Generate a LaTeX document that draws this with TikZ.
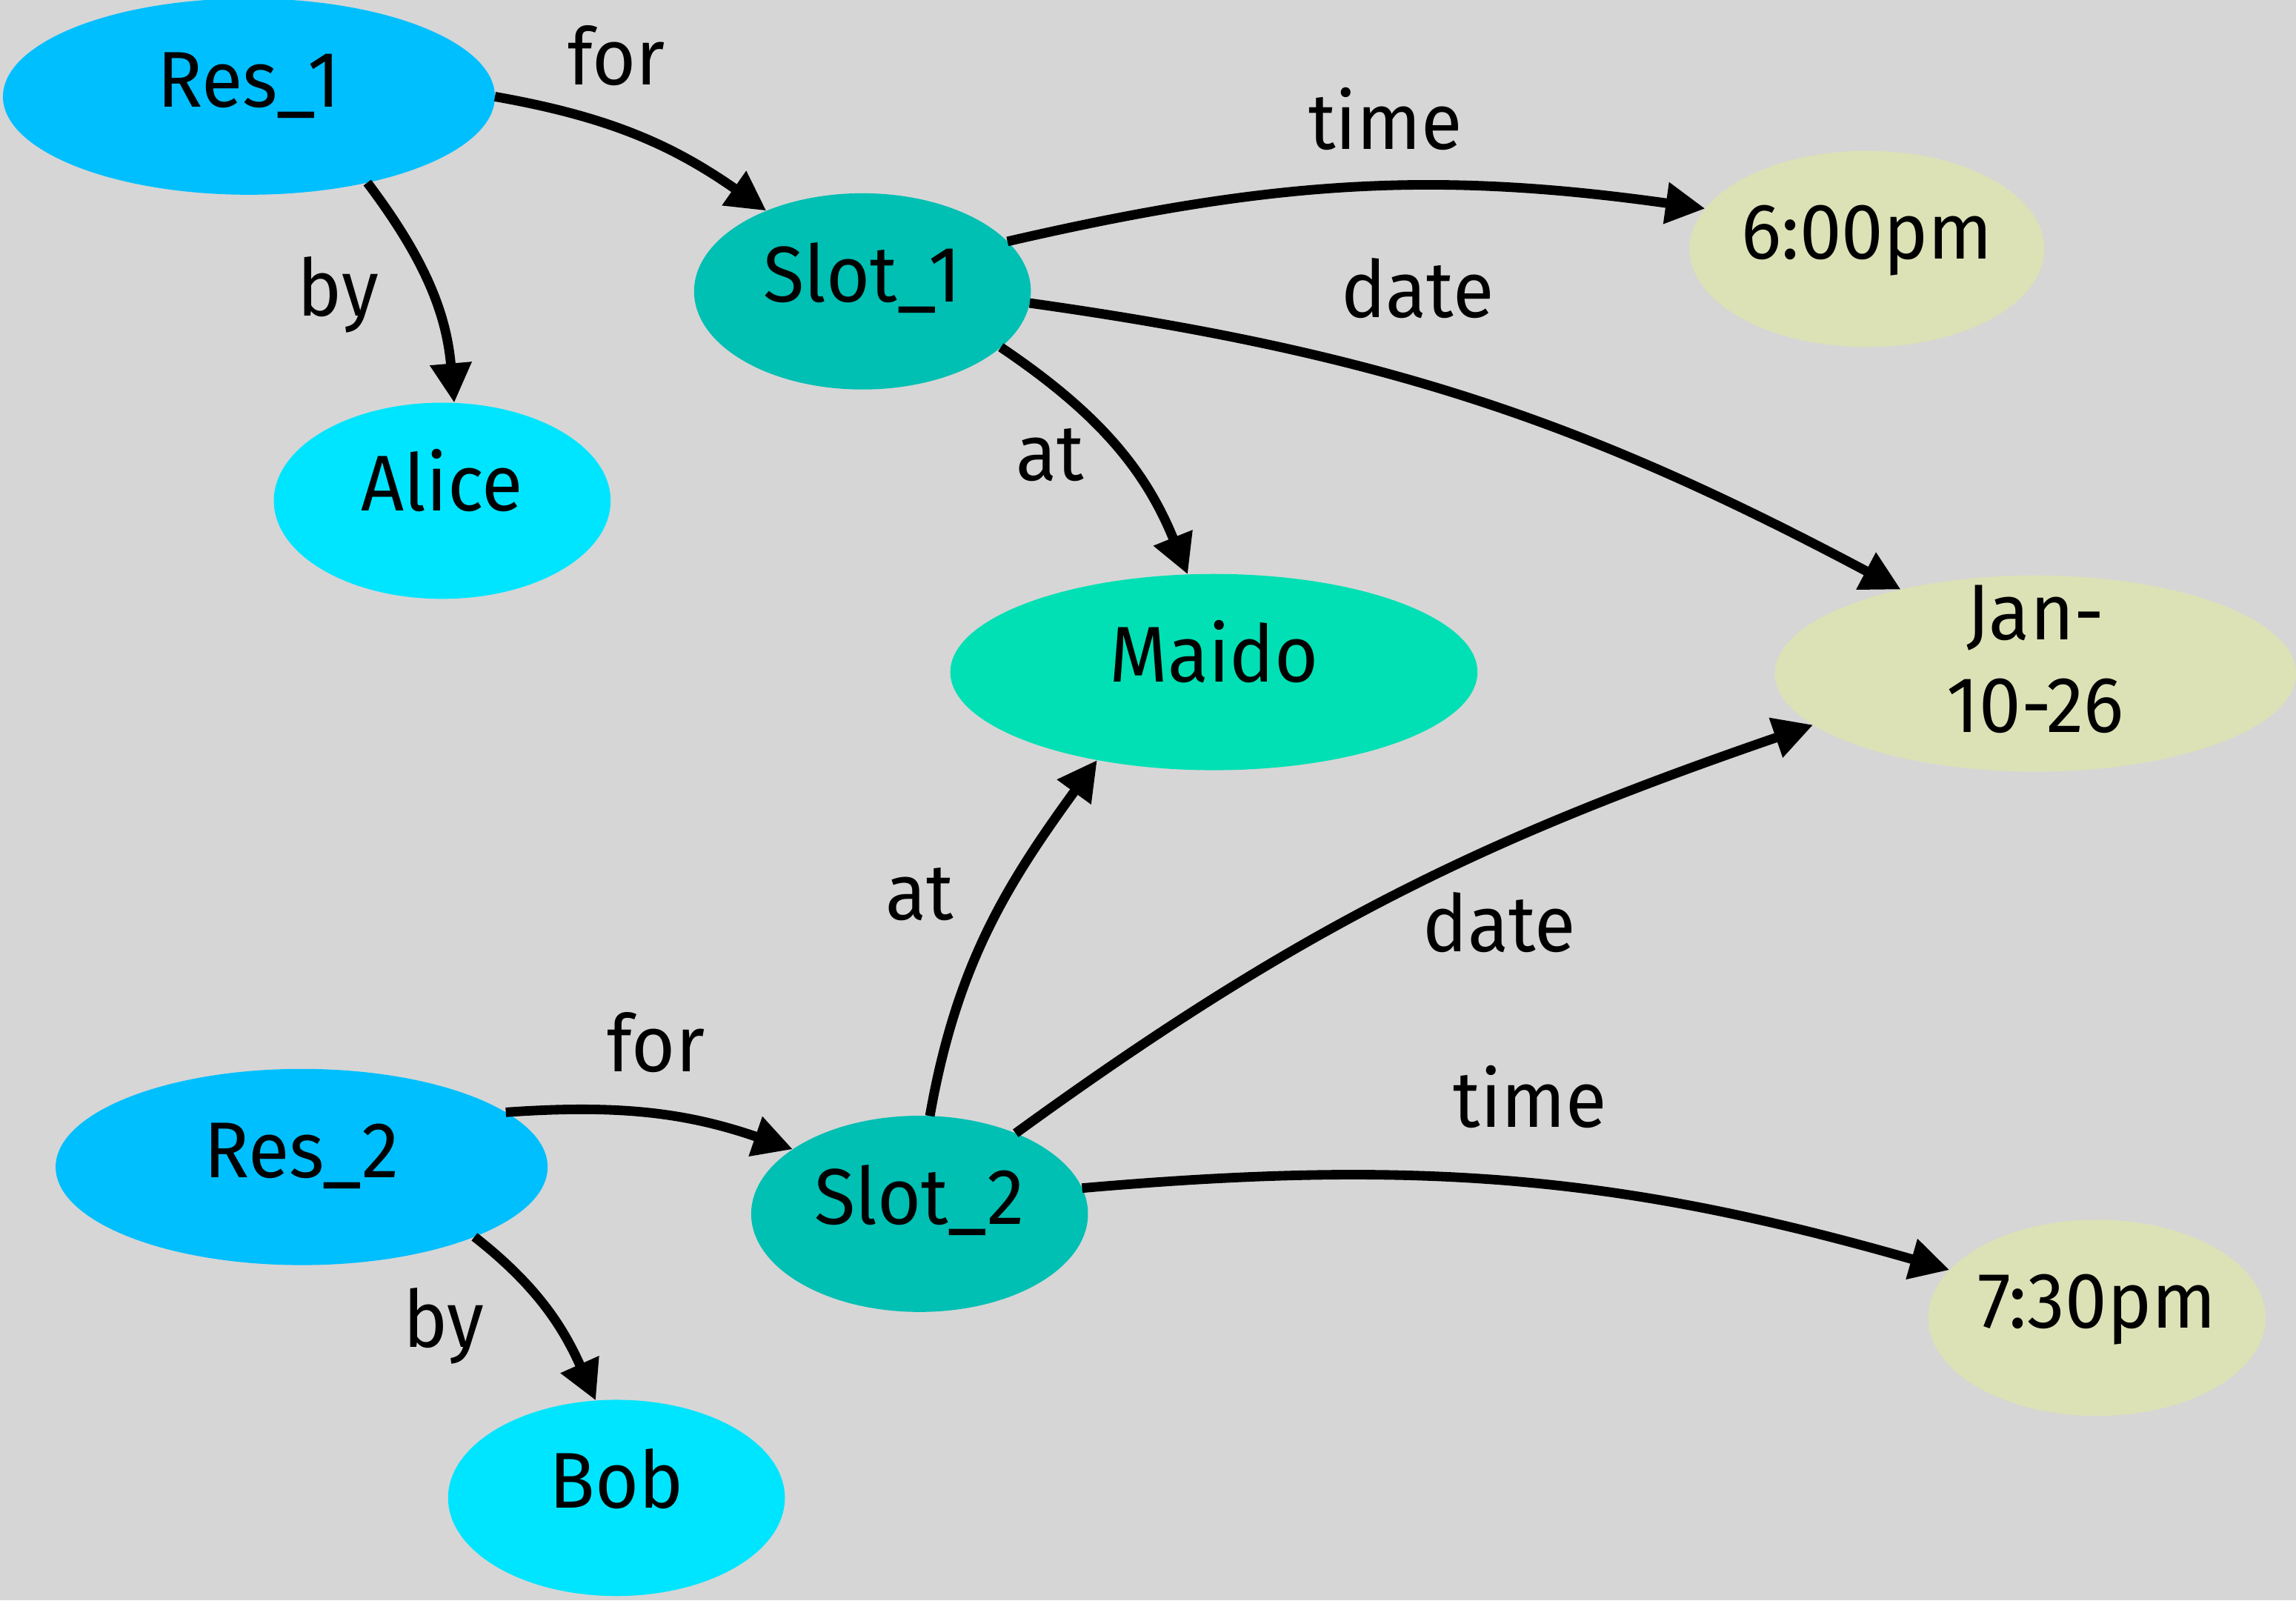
\documentclass[tikz,border=0pt]{standalone}
\usepackage{fontspec}
\setmainfont{Fira Sans}[FakeStretch=0.95]
\usetikzlibrary{arrows.meta,shapes.geometric}
\definecolor{bgc}{RGB}{214,214,214}
\definecolor{rescol}{RGB}{0,191,255}
\definecolor{personcol}{RGB}{0,229,255}
\definecolor{slotcol}{RGB}{0,191,179}
\definecolor{placecol}{RGB}{0,224,180}
\definecolor{valcol}{RGB}{220,226,182}
\tikzset{
  gnode/.style={ellipse, draw=none, inner sep=0pt, outer sep=0pt,
    minimum width=230pt, minimum height=134pt,
    text height=37pt, text depth=23pt,
    font=\fontsize{54}{63}\selectfont},
  wide/.style={minimum width=336pt},
  rel/.style={line width=6.5pt, -{Triangle[length=27pt,width=27pt]}},
  lbl/.style={anchor=base, inner sep=0pt, font=\fontsize{54}{63}\selectfont}
}
\begin{document}
\begin{tikzpicture}[x=1pt,y=1pt]
\fill[bgc] (0,0) rectangle (1568,1093);
\useasboundingbox (0,0) rectangle (1568,1093);

% resources, people, slots, places and values
\node[gnode, wide, fill=rescol] (res1) at (170,1027) {Res\_1};
\node[gnode, fill=personcol] (alice) at (302,751) {Alice};
\node[gnode, fill=slotcol] (slot1) at (589,894) {Slot\_1};
\node[gnode, fill=valcol] (six) at (1275,923) {6:00pm};
\node[gnode, minimum width=360pt, fill=placecol] (maido) at (829,634) {Maido};
\node[gnode, minimum width=356pt, fill=valcol] (jan) at (1390,633)
  {\raisebox{-33pt}{\begin{tabular}[b]{@{}c@{}}Jan-\\10-26\end{tabular}}};
\node[gnode, wide, fill=rescol] (res2) at (206,296) {Res\_2};
\node[gnode, fill=slotcol] (slot2) at (628,264) {Slot\_2};
\node[gnode, fill=valcol] (seven) at (1432,193) {7:30pm};
\node[gnode, fill=personcol] (bob) at (421,70) {Bob};

% relations of the first reservation
\draw[rel] (res1.east) to[out=-10, in=145] (slot1.140);
\draw[rel] (res1.-36) to[out=-53, in=95] (alice.83);
\draw[rel] (slot1.19) to[out=13, in=172] (six.166);
\draw[rel] (slot1.-4) to[out=-8, in=152] (jan.148);
\draw[rel] (slot1.-22) to[out=-34, in=112] (maido.105);

% relations of the second reservation
\draw[rel] (res2.15) to[out=4, in=161] (slot2.153);
\draw[rel] (res2.-22) to[out=-38, in=114] (bob.102);
\draw[rel] (slot2.84) to[out=80, in=234] (maido.217);
\draw[rel] (slot2.40) to[out=36, in=199] (jan.193);
\draw[rel] (slot2.9) to[out=5, in=164] (seven.162);

% relation labels
\node[lbl] (l-for1) at (421,1035) {for};
\node[lbl] (l-by1) at (231,877) {by};
\node[lbl] (l-time1) at (946,991) {time};
\node[lbl] (l-date1) at (968,876) {date};
\node[lbl] (l-at1) at (717,765) {at};
\node[lbl] (l-at2) at (628,465) {at};
\node[lbl] (l-date2) at (1024,443) {date};
\node[lbl] (l-for2) at (448,361) {for};
\node[lbl] (l-time2) at (1045,323) {time};
\node[lbl] (l-by2) at (303,173) {by};
\end{tikzpicture}
\end{document}
